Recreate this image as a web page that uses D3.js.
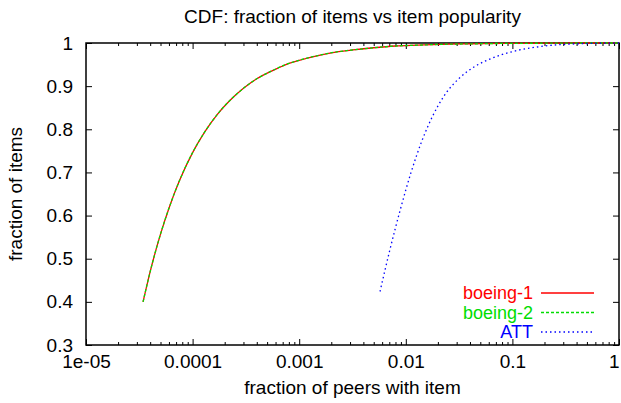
<!DOCTYPE html>
<html>
<head>
<meta charset="utf-8">
<script src="https://cdn.jsdelivr.net/npm/d3@7"></script>
<style>
body { margin: 0; background: #fff; }
text { font-family: "Liberation Sans", Arial, sans-serif; }
</style>
</head>
<body>
<div id="chart"></div>
<script>
var margin = { top: 43, bottom: 58, left: 86, right: 2 }
var width = 621 - margin.left - margin.right
var height = 403 - margin.top - margin.bottom
var fontSize = "19px"

// values
var boeingX = [3.43e-5, 4.0e-5, 5.0e-5, 6.0e-5, 7.5e-5, 1.0e-4, 1.3e-4, 1.7e-4, 2.2e-4, 3.0e-4, 4.0e-4, 5.5e-4, 7.5e-4, 1.0e-3, 1.5e-3, 2.2e-3, 3.2e-3, 5.0e-3, 8.0e-3, 1.3e-2, 2.2e-2, 4.0e-2, 8.0e-2, 0.2, 0.5, 1]
var boeing1Y = [0.400, 0.470, 0.557, 0.617, 0.680, 0.746, 0.794, 0.834, 0.865, 0.895, 0.917, 0.935, 0.950, 0.960, 0.971, 0.979, 0.984, 0.989, 0.993, 0.995, 0.997, 0.998, 0.999, 0.9995, 1.0, 1.0]
var boeing2Y = [0.400, 0.470, 0.557, 0.617, 0.680, 0.746, 0.794, 0.834, 0.865, 0.895, 0.917, 0.935, 0.950, 0.960, 0.971, 0.979, 0.984, 0.989, 0.993, 0.995, 0.997, 0.998, 0.999, 0.9995, 1.0, 1.0]
var attX = [5.73e-3, 7.08e-3, 8.91e-3, 1.12e-2, 1.41e-2, 1.78e-2, 2.24e-2, 3.16e-2, 4.47e-2, 6.31e-2, 0.1, 0.2, 0.398, 1]
var attY = [0.424, 0.520, 0.615, 0.700, 0.772, 0.830, 0.874, 0.918, 0.946, 0.964, 0.980, 0.993, 0.998, 1.0]

var xTicks = [1e-5, 1e-4, 1e-3, 1e-2, 1e-1, 1]
var xTickLabels = ["1e-05", "0.0001", "0.001", "0.01", "0.1", "1"]
var yTicks = [0.3, 0.4, 0.5, 0.6, 0.7, 0.8, 0.9, 1]
var yTickLabels = ["0.3", "0.4", "0.5", "0.6", "0.7", "0.8", "0.9", "1"]

var seriesNames = ["boeing-1", "boeing-2", "ATT"]
var seriesColors = ["#ff0000", "#00dd00", "#0000ff"]
var seriesDash = [null, "3,2", "1.5,3"]

var series = [
    { name: seriesNames[0], x: boeingX, y: boeing1Y },
    { name: seriesNames[1], x: boeingX, y: boeing2Y },
    { name: seriesNames[2], x: attX, y: attY }
]

var svg = d3.select("#chart").append("svg")
    .attr("width", 621)
    .attr("height", 403)

var g = svg.append("g")
    .attr("transform", "translate(" + margin.left + " " + margin.top + ")")

var x = d3.scaleLog().domain([1e-5, 1]).range([0, width])
var y = d3.scaleLinear().domain([0.3, 1]).range([height, 0])

// minor ticks of the log axis
var minor = []
for (var e = -5; e < 0; e++) {
    for (var m = 2; m <= 9; m++) minor.push(m * Math.pow(10, e))
}

// bottom axis
g.append("g").attr("transform", "translate(0 " + height + ")")
    .call(d3.axisBottom(x).tickValues(xTicks).tickFormat(function(d, i) { return xTickLabels[i] })
        .tickSizeInner(-6).tickSizeOuter(0).tickPadding(10))
g.append("g").attr("transform", "translate(0 " + height + ")")
    .call(d3.axisBottom(x).tickValues(minor).tickFormat("").tickSizeInner(-3).tickSizeOuter(0))
// top mirror
g.append("g")
    .call(d3.axisTop(x).tickValues(xTicks).tickFormat("").tickSizeInner(-6).tickSizeOuter(0))
g.append("g")
    .call(d3.axisTop(x).tickValues(minor).tickFormat("").tickSizeInner(-3).tickSizeOuter(0))
// left axis
g.append("g")
    .call(d3.axisLeft(y).tickValues(yTicks).tickFormat(function(d, i) { return yTickLabels[i] })
        .tickSizeInner(-6).tickSizeOuter(0).tickPadding(13))
// right mirror
g.append("g").attr("transform", "translate(" + width + " 0)")
    .call(d3.axisRight(y).tickValues(yTicks).tickFormat("").tickSizeInner(-6).tickSizeOuter(0))

g.selectAll(".domain").remove()
g.selectAll(".tick line").attr("stroke", "#000").attr("stroke-width", 1)
g.selectAll(".tick text").attr("font-size", fontSize).attr("fill", "#000")
    .style("font-family", "'Liberation Sans', Arial, sans-serif")
// keep the last x label inside the window
g.selectAll(".tick text").filter(function(d) { return d === 1 }).attr("text-anchor", "end")

// frame
g.append("rect")
    .attr("x", 0).attr("y", 0)
    .attr("width", width).attr("height", height)
    .attr("fill", "none").attr("stroke", "#000").attr("stroke-width", 1.5)

var line = d3.line()
    .x(function(d) { return x(d[0]) })
    .y(function(d) { return y(d[1]) })
    .curve(d3.curveMonotoneX)

series.forEach(function(s, i) {
    var pts = s.x.map(function(v, j) { return [v, s.y[j]] })
    g.append("path")
        .attr("d", line(pts))
        .attr("fill", "none")
        .attr("stroke", seriesColors[i])
        .attr("stroke-width", 1.3)
        .attr("stroke-dasharray", seriesDash[i])
})

// legend
var legend = g.append("g")
seriesNames.forEach(function(name, i) {
    var ly = 250 + i * 19.5
    legend.append("text")
        .attr("x", 447).attr("y", ly)
        .attr("dy", "0.35em")
        .attr("text-anchor", "end")
        .attr("font-size", "18px")
        .attr("fill", seriesColors[i])
        .text(name)
    legend.append("line")
        .attr("x1", 455).attr("x2", 508)
        .attr("y1", ly).attr("y2", ly)
        .attr("stroke", seriesColors[i])
        .attr("stroke-width", 1.3)
        .attr("stroke-dasharray", seriesDash[i])
})

// title
svg.append("text")
    .attr("x", margin.left + width / 2).attr("y", 23)
    .attr("text-anchor", "middle")
    .attr("font-size", fontSize)
    .text("CDF: fraction of items vs item popularity")

// x label
svg.append("text")
    .attr("x", margin.left + width / 2).attr("y", 394)
    .attr("text-anchor", "middle")
    .attr("font-size", fontSize)
    .text("fraction of peers with item")

// y label
svg.append("text")
    .attr("transform", "translate(22 " + (margin.top + height / 2) + ") rotate(-90)")
    .attr("text-anchor", "middle")
    .attr("font-size", fontSize)
    .text("fraction of items")
</script>
</body>
</html>
